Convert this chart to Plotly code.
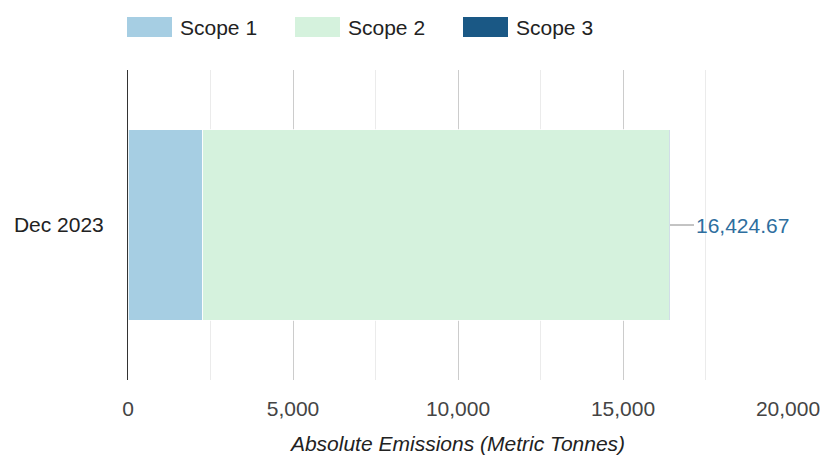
import plotly.graph_objects as go

# Emissions by scope for the reporting period (metric tonnes)
categories = ["Dec 2023"]
series_names = ["Scope 1", "Scope 2", "Scope 3"]
scope1 = [2258.0]
scope2 = [14136.67]
scope3 = [30.0]
series_colors = ["#a6cee3", "#d5f2dd", "#1a5885"]
x_tick_values = [0, 5000, 10000, 15000, 20000]
x_tick_labels = ["0", "5,000", "10,000", "15,000", "20,000"]

FONT = "Liberation Sans, Arial, sans-serif"
FS = 21
series_values = [scope1, scope2, scope3]

fig = go.Figure()
for name, vals, color in zip(series_names, series_values, series_colors):
    fig.add_trace(go.Bar(
        y=categories, x=vals, name=name, orientation="h",
        marker=dict(color=color, line=dict(color="white", width=0.8)),
        showlegend=False, hoverinfo="x+name",
    ))

# Total label with a short leader line off the end of the stack
totals = [a + b + c for a, b, c in zip(scope1, scope2, scope3)]
for cat, tot in zip(categories, totals):
    fig.add_annotation(
        x=tot, y=cat, xref="x", yref="y",
        text=f"{tot:,.2f}", showarrow=True, arrowhead=0, arrowwidth=1,
        arrowcolor="#888888", ax=24, ay=0, xanchor="left",
        font=dict(family=FONT, size=FS, color="#2e6e9e"),
    )

# Legend drawn as swatches along the top
legend_x = [127, 295, 463]
for name, color, lx in zip(series_names, series_colors, legend_x):
    fig.add_shape(type="rect", xref="paper", yref="paper",
                  x0=(lx - 128) / 660, x1=(lx + 45 - 128) / 660,
                  y0=(380 - 37) / 310, y1=(380 - 17) / 310,
                  fillcolor=color, line=dict(color=color, width=0))
    fig.add_annotation(x=(lx + 51 - 128) / 660, y=(380 - 27) / 310,
                       xref="paper", yref="paper", text=name, showarrow=False,
                       xanchor="left", yanchor="middle",
                       font=dict(family=FONT, size=FS, color="#222222"))

fig.update_layout(
    barmode="stack",
    bargap=0.385,
    width=822, height=455,
    margin=dict(l=128, r=34, t=70, b=75),
    paper_bgcolor="white", plot_bgcolor="white",
    font=dict(family=FONT, size=FS, color="#444444"),
    xaxis=dict(
        range=[0, 20000], tickvals=x_tick_values, ticktext=x_tick_labels,
        showgrid=True, gridcolor="#cccccc", gridwidth=1,
        minor=dict(dtick=2500, showgrid=True, gridcolor="#ebebeb", gridwidth=1),
        zeroline=False, showline=False, ticks="", ticklabelstandoff=14,
        automargin=False,
        tickfont=dict(family=FONT, size=FS, color="#444444"),
        title=dict(text="<i>Absolute Emissions (Metric Tonnes)</i>",
                   font=dict(family=FONT, size=FS, color="#222222"), standoff=17),
        fixedrange=True,
    ),
    yaxis=dict(
        showline=True, linecolor="#333333", linewidth=1,
        showgrid=False, ticks="", ticklabelstandoff=19, automargin=False,
        tickfont=dict(family=FONT, size=FS, color="#222222"),
        fixedrange=True,
    ),
)

fig.write_html("out.html")
